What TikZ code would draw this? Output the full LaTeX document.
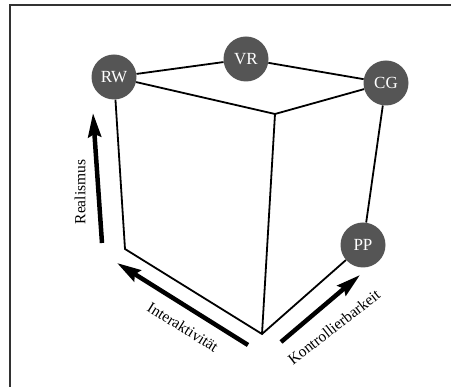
\documentclass[tikz,border=0pt]{standalone}
\usepackage{fontspec}
\setmainfont{Liberation Serif}
\usetikzlibrary{arrows.meta}
\definecolor{nodegray}{RGB}{85,85,85}
\definecolor{framegray}{RGB}{50,50,50}
\begin{document}
\begin{tikzpicture}[x=1pt,y=-1pt,
  corner/.style={circle,fill=nodegray,minimum size=45pt,inner sep=0pt,
    text=white,font=\fontsize{17}{19}\selectfont},
  edge/.style={line width=1.8pt,line join=miter},
  axis/.style={line width=4.5pt,-{Stealth[length=24pt,width=13pt,inset=3pt]}},
  axislabel/.style={font=\fontsize{15.5}{17}\selectfont,inner sep=0pt}]
  \useasboundingbox (0,0) rectangle (451,387);
  \clip (0,0) rectangle (451,387);
  % open frame: only the top and left sides fall inside the page
  \draw[framegray,line width=2pt] (10,400) -- (10,5) -- (470,5);

  % cube corners
  \node[corner] (RW) at (114,77) {RW};
  \node[corner] (VR) at (246,59) {VR};
  \node[corner] (CG) at (386,83) {CG};
  \node[corner] (PP) at (363,245) {PP};
  \coordinate (FT) at (275,114);
  \coordinate (LB) at (125,249);
  \coordinate (FB) at (262,334);

  % cube edges
  \draw[edge] (RW) -- (VR) -- (CG);
  \draw[edge] (RW) -- (FT) -- (CG);
  \draw[edge] (RW) -- (LB) -- (FB) -- (PP) -- (CG);
  \draw[edge] (FT) -- (FB);

  % axes
  \coordinate (R0) at (102,243); \coordinate (R1) at (93,113);
  \coordinate (I0) at (248,345); \coordinate (I1) at (117,263);
  \coordinate (K0) at (281,342); \coordinate (K1) at (360,275);
  \draw[axis] (R0) -- (R1);
  \draw[axis] (I0) -- (I1);
  \draw[axis] (K0) -- (K1);

  \node[axislabel,rotate=90] (realismus) at (80,192) {Realismus};
  \node[axislabel,rotate=-32] (interaktiv) at (183,327) {Interaktivität};
  \node[axislabel,rotate=38] (kontrolle) at (334,327) {Kontrollierbarkeit};
\end{tikzpicture}
\end{document}
